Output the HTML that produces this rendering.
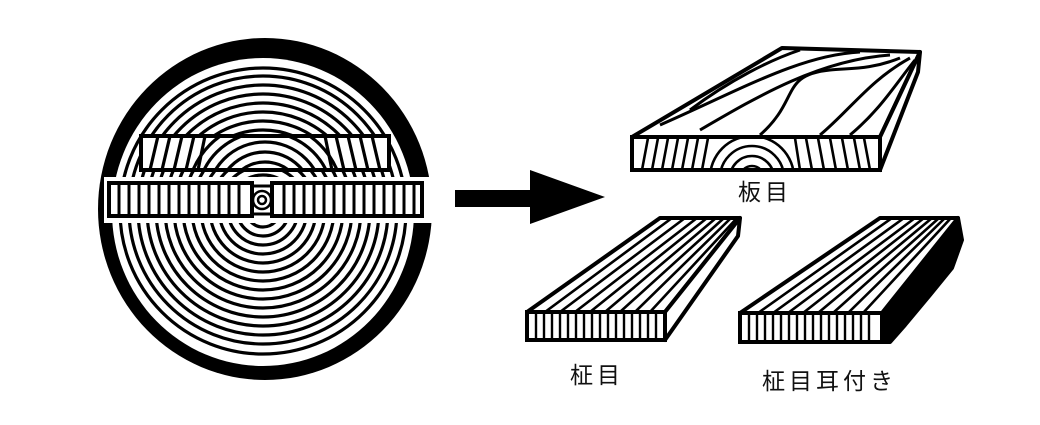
<!DOCTYPE html>
<html><head><meta charset="utf-8"><style>
html,body{margin:0;padding:0;background:#fff;width:1040px;height:425px;overflow:hidden}
svg{display:block}
text{font-family:"Liberation Sans","Noto Sans CJK JP",sans-serif;font-size:23px;fill:#111;letter-spacing:4px}
</style></head><body>
<svg width="1040" height="425" viewBox="0 0 1040 425" xmlns="http://www.w3.org/2000/svg">
<defs>
<clipPath id="logc"><ellipse cx="263" cy="212" rx="151" ry="154"/></clipPath>
<clipPath id="f1"><polygon points="632,138 880,138 880,170 632,170"/></clipPath>
<clipPath id="t1"><polygon points="632,137 782,48 920,52 880,137"/></clipPath>
<clipPath id="t2"><polygon points="527,312 660,218 740,218 665,312"/></clipPath>
<clipPath id="t3"><polygon points="740,313 880,218 958,218 882,313"/></clipPath>
<clipPath id="p1"><rect x="143" y="138" width="244" height="30"/></clipPath>
</defs>
<!-- log bark -->
<ellipse cx="265" cy="209" rx="167" ry="171" fill="#000"/>
<ellipse cx="263" cy="212" rx="151" ry="154" fill="#fff"/>
<g clip-path="url(#logc)" fill="none" stroke="#000" stroke-width="3.2">
<circle cx="263" cy="210" r="8"/><circle cx="263" cy="210" r="17"/><circle cx="263" cy="210" r="26"/>
<circle cx="263" cy="210" r="35"/><circle cx="263" cy="210" r="44"/><circle cx="263" cy="210" r="53"/>
<circle cx="263" cy="210" r="62"/><circle cx="263" cy="210" r="71"/><circle cx="263" cy="210" r="80"/>
<circle cx="263" cy="210" r="89"/><circle cx="263" cy="210" r="98"/><circle cx="263" cy="210" r="107"/>
<circle cx="263" cy="210" r="116"/><circle cx="263" cy="210" r="125"/><circle cx="263" cy="210" r="134"/>
<circle cx="263" cy="211" r="143"/>
</g>
<!-- top plank in log -->
<rect x="141" y="136" width="248" height="34" fill="#fff" stroke="#000" stroke-width="4"/>
<g clip-path="url(#p1)" stroke="#000" stroke-width="3.2" fill="none">
<path d="M150,170 l8,-34 M162,170 l8,-34 M174,170 l8,-34 M186,170 l8,-34 M198,170 l7,-34"/>
<path d="M332,170 l-7,-34 M344,170 l-8,-34 M356,170 l-8,-34 M368,170 l-8,-34 M380,170 l-8,-34"/>
<circle cx="265" cy="200" r="28"/><circle cx="265" cy="200" r="38"/><circle cx="265" cy="200" r="48"/><circle cx="265" cy="200" r="58"/><circle cx="265" cy="200" r="68"/><circle cx="265" cy="200" r="78"/>
</g>
<!-- middle band -->
<rect x="104" y="177" width="330" height="46" fill="#fff"/>
<rect x="109" y="183" width="143" height="33" fill="#fff" stroke="#000" stroke-width="4"/>
<rect x="272" y="183" width="150" height="33" fill="#fff" stroke="#000" stroke-width="4"/>
<g stroke="#000" stroke-width="3">
<path d="M119,184v31 M129,184v31 M139,184v31 M149,184v31 M159,184v31 M169,184v31 M179,184v31 M189,184v31 M199,184v31 M209,184v31 M219,184v31 M229,184v31 M239,184v31"/>
<path d="M284,184v31 M294,184v31 M304,184v31 M314,184v31 M324,184v31 M334,184v31 M344,184v31 M354,184v31 M364,184v31 M374,184v31 M384,184v31 M394,184v31 M404,184v31 M414,184v31"/>
<path d="M252,186h20 M252,214h20" /></g>
<g fill="none" stroke="#000" stroke-width="2.5"><circle cx="262" cy="200" r="4"/><circle cx="262" cy="200" r="9"/></g>
<!-- arrow -->
<rect x="455" y="190" width="78" height="17" fill="#000"/>
<polygon points="530,170 605,197 530,224" fill="#000"/>
<!-- board 1 -->
<polygon points="632,137 782,48 920,52 880,137" fill="#fff" stroke="#000" stroke-width="4" stroke-linejoin="round"/>
<g clip-path="url(#t1)" fill="none" stroke="#000" stroke-width="3">
<path d="M660,125 C740,90 800,55 860,52"/>
<path d="M700,130 C760,95 820,60 890,55"/>
<path d="M760,135 C800,100 780,75 830,70 C850,68 870,70 900,58"/>
<path d="M820,135 C850,110 870,80 910,58"/>
<path d="M850,135 C880,110 895,85 915,60"/>
<path d="M690,110 C730,80 770,60 800,50"/>
</g>
<rect x="632" y="137" width="248" height="33" fill="#fff" stroke="#000" stroke-width="4"/>
<polygon points="880,137 920,52 918,72 880,170" fill="#fff" stroke="#000" stroke-width="4" stroke-linejoin="round"/>
<g clip-path="url(#f1)" fill="none" stroke="#000" stroke-width="2.6">
<path d="M642,170 l6,-32 M652,170 l6,-32 M662,170 l6,-32 M672,170 l6,-32 M682,170 l6,-32 M692,170 l6,-32 M702,170 l6,-32"/>
<path d="M800,170 l-5,-32 M812,170 l-6,-32 M824,170 l-6,-32 M836,170 l-6,-32 M848,170 l-6,-32 M860,170 l-6,-32 M870,170 l-6,-32"/>
<circle cx="752" cy="178" r="12"/><circle cx="752" cy="178" r="22"/><circle cx="752" cy="178" r="32"/><circle cx="752" cy="178" r="42"/>
</g>
<text x="738" y="200">板目</text>
<!-- board 2 -->
<polygon points="527,312 660,218 740,218 665,312" fill="#fff" stroke="#000" stroke-width="4" stroke-linejoin="round"/>
<g clip-path="url(#t2)" stroke="#000" stroke-width="2.6">
<path d="M545,312 L672,218 M560,312 L685,218 M575,312 L697,218 M590,312 L707,218 M605,312 L716,218 M620,312 L724,218 M635,312 L731,218 M650,312 L737,218"/>
</g>
<rect x="527" y="312" width="138" height="28" fill="#fff" stroke="#000" stroke-width="4"/>
<polygon points="665,312 740,218 738,236 665,340" fill="#fff" stroke="#000" stroke-width="4" stroke-linejoin="round"/>
<g stroke="#000" stroke-width="2.4"><path d="M536,314v25 M544,314v25 M552,314v25 M560,314v25 M568,314v25 M576,314v25 M584,314v25 M592,314v25 M600,314v25 M608,314v25 M616,314v25 M624,314v25 M632,314v25 M640,314v25 M648,314v25 M656,314v25"/></g>
<text x="570" y="383">柾目</text>
<!-- board 3 -->
<polygon points="882,313 958,218 962,240 952,268 930,295 905,325 890,342 882,342" fill="#000" stroke="#000" stroke-width="4" stroke-linejoin="round"/>
<polygon points="740,313 880,218 958,218 882,313" fill="#fff" stroke="#000" stroke-width="4" stroke-linejoin="round"/>
<g clip-path="url(#t3)" stroke="#000" stroke-width="2.6">
<path d="M758,313 L892,218 M773,313 L904,218 M788,313 L915,218 M803,313 L924,218 M818,313 L932,218 M833,313 L939,218 M848,313 L945,218 M863,313 L951,218"/>
</g>
<rect x="740" y="313" width="142" height="29" fill="#fff" stroke="#000" stroke-width="4"/>
<g stroke="#000" stroke-width="2.4"><path d="M749,315v25 M757,315v25 M765,315v25 M773,315v25 M781,315v25 M789,315v25 M797,315v25 M805,315v25 M813,315v25 M821,315v25 M829,315v25 M837,315v25 M845,315v25 M853,315v25 M861,315v25 M869,315v25"/></g>
<text x="762" y="389">柾目耳付き</text>
</svg>
</body></html>
